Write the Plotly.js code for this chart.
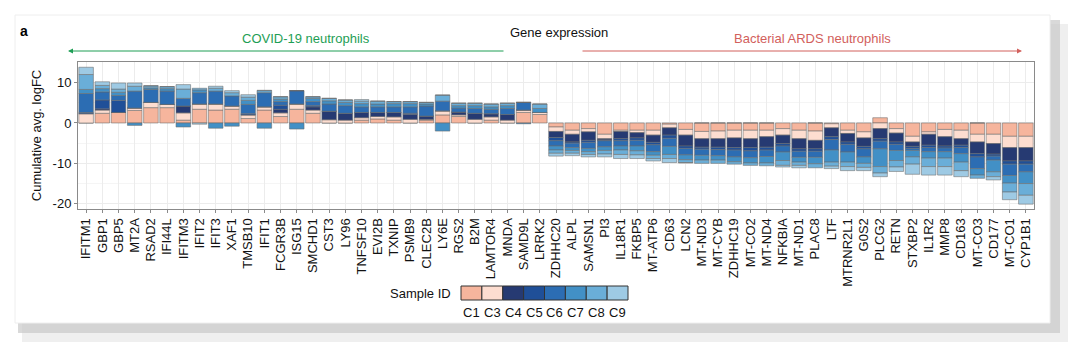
<!DOCTYPE html>
<html>
<head>
<meta charset="utf-8">
<script src="https://cdn.plot.ly/plotly-3.0.1.min.js"></script>
<style>html,body{margin:0;padding:0;background:#fff;}#chart{width:1080px;height:351px;}</style>
</head>
<body>
<div id="chart"></div>
<script>
// ---- data ----
const genes = ["IFITM1","GBP1","GBP5","MT2A","RSAD2","IFI44L","IFITM3","IFIT2","IFIT3","XAF1",
"TMSB10","IFIT1","FCGR3B","ISG15","SMCHD1","CST3","LY96","TNFSF10","EVI2B","TXNIP",
"PSMB9","CLEC2B","LY6E","RGS2","B2M","LAMTOR4","MNDA","SAMD9L","LRRK2","ZDHHC20",
"ALPL","SAMSN1","PI3","IL18R1","FKBP5","MT-ATP6","CD63","LCN2","MT-ND3","MT-CYB",
"ZDHHC19","MT-CO2","MT-ND4","NFKBIA","MT-ND1","PLAC8","LTF","MTRNR2L1","G0S2","PLCG2",
"RETN","STXBP2","IL1R2","MMP8","CD163","MT-CO3","CD177","MT-CO1","CYP1B1"];

const sampleIds = ["C1","C3","C4","C5","C6","C7","C8","C9"];

const c1 = [0,2.4,2.6,3.1,3.8,3.8,0.7,3.4,3.2,3.4, 1.1,3.2,1.6,3.4,2.4,0,0,0.7,1.0,0.7, 0,0.7,2.0,1.6,0,0.7,0,2.6,2.1,
 -1.0,-1.8,-1.4,-2.8,-1.8,-1.8,-1.8,-0.3,-1.6,-2.1, -2.0,-1.8,-1.8,-1.8,-1.4,-1.8,-2.0,-0.2,-1.8,-2.2, 1.3,-1.4,-3.3,-2.2,-1.6,-1.8,-2.8,-2.8,-3.3,-3.3];
const c3 = [2.3,0.8,0,0.6,1.3,0.8,1.8,1.3,1.5,0.8, 0.9,0.8,0.9,1.3,0.8,0.8,0.7,0.6,0.6,0.8, 0.9,0.2,1.0,0.4,0.9,0.8,0.7,0.6,0.5,
 -1.1,-1.0,-0.8,-1.1,-0.3,-0.6,-1.2,-0.9,-1.4,-1.8, -1.9,-1.9,-2.1,-1.6,-1.6,-2.1,-2.3,-1.0,-0.8,-1.5, -1.4,-1.1,-1.4,-0.6,-1.8,-2.1,-1.9,-2.3,-2.8,-2.8];
const c4 = [0,0.3,0,0,0,0,1.7,0,0,0, 0,0,0.9,0,0.8,2.1,1.7,1.3,1.0,1.1, 1.2,0.8,0,0.7,1.5,0.8,1.4,0,0,
 -1.5,-1.9,-2.1,-0.3,-1.8,-1.3,-1.8,-1.8,-2.7,-2.1, -2.1,-2.4,-2.2,-2.6,-2.1,-2.5,-2.1,-2.2,-2.1,-2.1, -2.5,-2.2,-1.1,-2.7,-2.3,-1.6,-2.9,-2.6,-3.3,-3.3];
const c5 = [0.3,2.2,3.0,0,0,0,0,0,0,0, 0.3,0,1.0,0,0.3,0,0,0,0,0, 0.3,0,0,0,0,0,0,0,0,
 -0.8,-0.3,-0.5,-0.2,-0.5,-0.6,-0.6,-0.8,-0.6,-0.5, -0.6,-0.6,-0.8,-0.7,-0.6,-0.6,-0.6,-0.7,-0.6,-0.6, -0.6,-0.6,-0.5,-0.6,-0.5,-0.6,-0.8,-0.5,-0.8,-0.8];
const c6 = [4.7,2.0,1.2,4.2,3.2,3.3,1.9,2.8,3.2,2.5, 2.3,3.5,0.9,3.3,1.0,1.8,1.9,1.4,1.4,1.4, 1.6,2.5,2.4,1.0,1.2,1.1,1.5,1.9,0,
 -1.3,-1.1,-1.5,-1.5,-1.3,-1.4,-1.7,-2.0,-1.6,-1.5, -1.5,-1.7,-1.7,-1.6,-1.5,-1.5,-1.5,-2.6,-1.9,-2.0, -1.9,-1.5,-0.5,-1.0,-0.9,-1.5,-2.9,-1.0,-2.8,-1.9];
const c7 = [1.0,0.8,0.8,-0.6,0.4,0.6,-1.0,0.7,-1.3,-0.8, 1.0,-1.3,0.6,-1.5,0.8,0.8,0.8,0.8,0.7,0.8, 0.8,0.5,-2.0,0.6,0.7,0.6,0.7,-0.2,1.0,
 -1.0,-0.7,-0.8,-0.9,-1.0,-1.2,-0.9,-2.0,-1.2,-1.2, -1.1,-1.2,-1.3,-1.6,-2.1,-1.2,-1.6,-3.0,-2.5,-1.6, -4.4,-2.5,-1.6,-1.6,-1.6,-2.1,-1.6,-2.9,-1.9,-2.9];
const c8 = [3.7,0.8,0.8,1.2,0.5,0.5,2.3,0.4,0.7,0.8, 0.8,0.5,0.6,0,0.4,0.6,0.6,0.6,0.7,0.5, 0.5,0.4,1.5,0.6,0.6,0.7,0.6,0,1.1,
 -0.8,-0.7,-0.7,-0.9,-1.1,-1.0,-0.8,-1.0,-0.7,-0.8, -0.8,-0.6,-0.6,-0.7,-1.2,-0.8,-1.0,-1.0,-1.1,-1.0, -1.6,-1.6,-1.8,-2.1,-2.1,-2.1,-0.8,-1.2,-2.2,-2.9];
const c9 = [1.8,0.9,1.5,0.8,0,0,1.1,-0.3,0.5,0.5, 0.6,0.1,0,0,0,0,0,0.4,0,0, 0,0,0,0,0,0,0,0,0,
 -0.7,-0.6,-0.6,-0.7,-1.0,-0.9,-0.6,-1.0,-0.1,0, 0,0,0,0,-0.4,-0.6,0,-0.6,-1.0,-0.8, -0.9,-1.1,-2.5,-2.1,-2.1,-1.5,0,-0.8,-1.9,-2.2];

const sampleValues = [c1, c3, c4, c5, c6, c7, c8, c9];
const sampleColors = ["#F6B59D","#FDDDD0","#263A72","#1F4F98","#2C6DB3","#4290C6","#6AAED8","#9ECAE4"];

const yTicks = [-20, -10, 0, 10];

// ---- figure ----
const FONT = "Liberation Sans, Arial, Helvetica, sans-serif";
const traces = sampleIds.map((id, i) => ({
  type: "bar",
  name: id,
  x: genes,
  y: sampleValues[i],
  marker: { color: sampleColors[i], line: { color: "rgba(105,105,105,0.55)", width: 1 } },
  showlegend: false,
  hoverinfo: "x+y+name"
}));

// pixel helpers (plot area: x 78..1034, y 62..209)
const L = 78, R = 1034, T = 62, B = 209;
const px = v => (v - L) / (R - L);
const py = v => (B - v) / (B - T);

const shapes = [];
const annotations = [];

// card shadow + card
shapes.push({type:"rect", xref:"paper", yref:"paper", x0:px(22), x1:px(1068), y0:py(24), y1:py(342), fillcolor:"#e4e4e4", line:{width:0}, layer:"below", opacity:0.6});
shapes.push({type:"rect", xref:"paper", yref:"paper", x0:px(18), x1:px(1060), y0:py(20), y1:py(333), fillcolor:"#c4c4c4", line:{width:0}, layer:"below", opacity:0.65});
shapes.push({type:"rect", xref:"paper", yref:"paper", x0:px(15), x1:px(1050), y0:py(15), y1:py(323), fillcolor:"#ffffff", line:{color:"#eeeeee", width:1}, layer:"below"});

// legend
const boxW = (628 - 461) / sampleIds.length;
sampleIds.forEach((id, i) => {
  const x0 = 461 + i * boxW, x1 = x0 + boxW;
  shapes.push({type:"rect", xref:"paper", yref:"paper", x0:px(x0), x1:px(x1), y0:py(300), y1:py(286),
    fillcolor: sampleColors[i], line:{color:"#333333", width:1}});
  annotations.push({xref:"paper", yref:"paper", x:px((x0+x1)/2), y:py(312), text:id, showarrow:false,
    xanchor:"center", yanchor:"middle", font:{family:FONT, size:13, color:"#111"}});
});
annotations.push({xref:"paper", yref:"paper", x:px(453), y:py(293), text:"Sample ID", showarrow:false,
  xanchor:"right", yanchor:"middle", font:{family:FONT, size:13, color:"#111"}});

// header texts and arrows
annotations.push({xref:"paper", yref:"paper", x:px(18), y:py(31), text:"<b>a</b>", showarrow:false,
  xanchor:"left", yanchor:"middle", font:{family:FONT, size:14, color:"#000"}});
annotations.push({xref:"paper", yref:"paper", x:px(559), y:py(32), text:"Gene expression", showarrow:false,
  xanchor:"center", yanchor:"middle", font:{family:FONT, size:13, color:"#111"}});
annotations.push({xref:"paper", yref:"paper", x:px(306), y:py(38), text:"COVID-19 neutrophils", showarrow:false,
  xanchor:"center", yanchor:"middle", font:{family:FONT, size:13, color:"#1E9E55"}});
annotations.push({xref:"paper", yref:"paper", x:px(812), y:py(38), text:"Bacterial ARDS neutrophils", showarrow:false,
  xanchor:"center", yanchor:"middle", font:{family:FONT, size:13, color:"#D2605C"}});
annotations.push({xref:"paper", yref:"paper", x:px(68), y:py(51), text:"", showarrow:true,
  ax:437, ay:0, arrowhead:2, arrowsize:1, arrowwidth:1, arrowcolor:"#1E9E55"});
annotations.push({xref:"paper", yref:"paper", x:px(1022), y:py(51), text:"", showarrow:true,
  ax:-441, ay:0, arrowhead:2, arrowsize:1, arrowwidth:1, arrowcolor:"#D2605C"});

const layout = {
  width: 1080, height: 351,
  margin: {l: L, r: 1080 - R, t: T, b: 351 - B, pad: 0},
  paper_bgcolor: "#ffffff",
  plot_bgcolor: "#ffffff",
  barmode: "relative",
  bargap: 0.1,
  font: {family: FONT, size: 13, color: "#111"},
  showlegend: false,
  xaxis: {
    type: "category",
    categoryorder: "array",
    categoryarray: genes,
    range: [-0.5, genes.length - 0.5],
    tickangle: -90,
    tickfont: {family: FONT, size: 13, color: "#111"},
    showgrid: true, gridcolor: "#ececec", gridwidth: 1,
    showline: true, mirror: true, linecolor: "#8a8a8a", linewidth: 1,
    ticks: "outside", ticklen: 3, tickcolor: "#8a8a8a",
    fixedrange: true
  },
  yaxis: {
    range: [-21.3, 15.1],
    tickvals: yTicks,
    ticktext: yTicks.map(String),
    tickfont: {family: FONT, size: 13, color: "#111"},
    showgrid: true, gridcolor: "#ececec", gridwidth: 1,
    minor: {dtick: 5, tick0: 0, showgrid: true, gridcolor: "#f5f5f5", ticks: ""},
    zeroline: false,
    showline: true, mirror: true, linecolor: "#8a8a8a", linewidth: 1,
    ticks: "outside", ticklen: 3, tickcolor: "#8a8a8a",
    title: {text: "Cumulative avg. logFC", font: {family: FONT, size: 13, color: "#111"}, standoff: 8},
    fixedrange: true
  },
  shapes: shapes,
  annotations: annotations
};

Plotly.newPlot("chart", traces, layout, {displayModeBar: false, staticPlot: true});
</script>
</body>
</html>
